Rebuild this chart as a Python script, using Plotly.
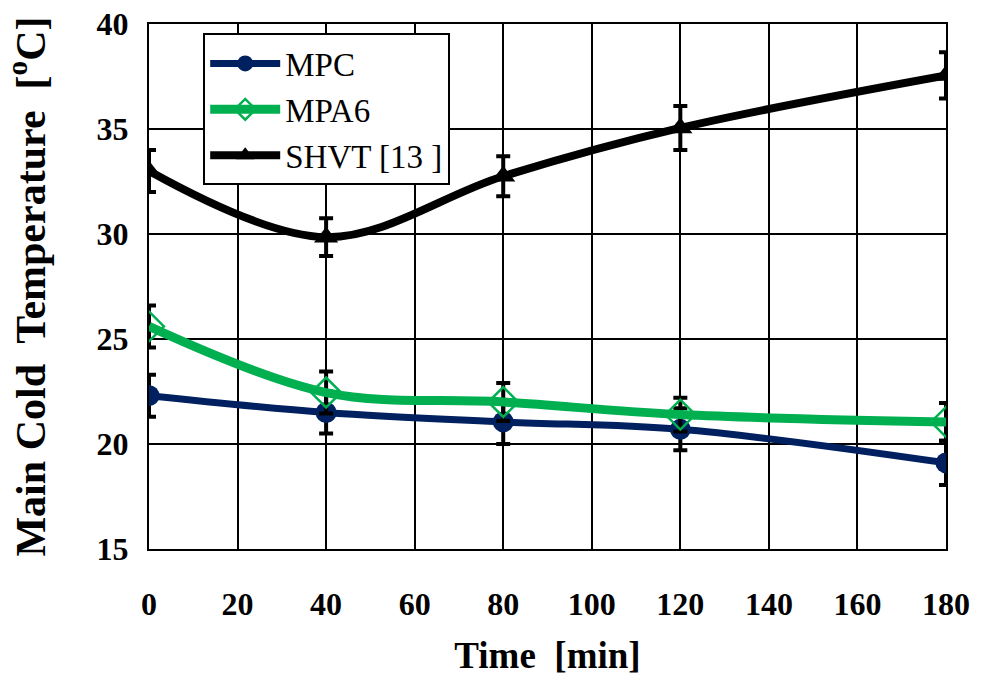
import plotly.graph_objects as go

time = [0, 40, 80, 120, 180]
mpc = [22.3, 21.5, 21.05, 20.7, 19.1]
mpc_err = [1.0, 1.0, 1.05, 1.0, 1.05]
mpa6 = [25.6, 22.45, 22.0, 21.4, 21.05]
mpa6_err = [1.0, 1.0, 0.9, 0.8, 0.9]
shvt = [33.0, 29.85, 32.75, 35.05, 37.55]
shvt_err = [1.0, 0.9, 0.95, 1.05, 1.1]

FONT = "Liberation Serif"

fig = go.Figure()
fig.add_trace(go.Scatter(
    x=time, y=mpc, name="MPC", mode="lines+markers",
    line=dict(color="#002060", width=7, shape="spline", smoothing=1.0),
    marker=dict(symbol="circle", size=21, color="#002060"),
    error_y=dict(type="data", array=mpc_err, color="black", thickness=4, width=7),
))
fig.add_trace(go.Scatter(
    x=time, y=mpa6, name="MPA6", mode="lines+markers",
    line=dict(color="#00B050", width=9, shape="spline", smoothing=1.0),
    marker=dict(symbol="diamond-open", size=23, color="#00B050", line=dict(width=2.5, color="#00B050")),
    error_y=dict(type="data", array=mpa6_err, color="black", thickness=4, width=7),
))
fig.add_trace(go.Scatter(
    x=time, y=shvt, name="SHVT [13 ]", mode="lines+markers",
    line=dict(color="black", width=8, shape="spline", smoothing=1.0),
    marker=dict(symbol="triangle-up", size=21, color="black"),
    error_y=dict(type="data", array=shvt_err, color="black", thickness=4, width=7),
))

fig.update_layout(
    width=984, height=676,
    margin=dict(l=149, r=38, t=24, b=127),
    paper_bgcolor="white", plot_bgcolor="white",
    font=dict(family=FONT, color="black"),
    showlegend=True,
    legend=dict(
        x=0.068, y=0.982, xanchor="left", yanchor="top",
        bgcolor="white", bordercolor="black", borderwidth=2,
        font=dict(family=FONT, size=33, color="black"),
        itemwidth=70,
    ),
    xaxis=dict(
        range=[0, 180], tickmode="array", tickvals=list(range(0, 181, 20)),
        showgrid=True, gridcolor="black", gridwidth=2,
        showline=True, linecolor="black", linewidth=2, mirror=True,
        zeroline=False, ticks="", automargin=False,
        tickfont=dict(family=FONT, size=32, color="black", weight="bold"),
        ticklabelstandoff=26,
        title=dict(text="Time  [min]", font=dict(family=FONT, size=37, color="black", weight="bold"), standoff=30),
    ),
    yaxis=dict(
        range=[15, 40], tickmode="array", tickvals=list(range(15, 41, 5)),
        showgrid=True, gridcolor="black", gridwidth=2,
        showline=True, linecolor="black", linewidth=2, mirror=True,
        zeroline=False, ticks="", automargin=False,
        tickfont=dict(family=FONT, size=32, color="black", weight="bold"),
        ticklabelstandoff=12,
        title=dict(text="Main Cold  Temperature  [<sup>o</sup>C]", font=dict(family=FONT, size=42, color="black", weight="bold"), standoff=38),
    ),
)

fig.write_html("out.html")
